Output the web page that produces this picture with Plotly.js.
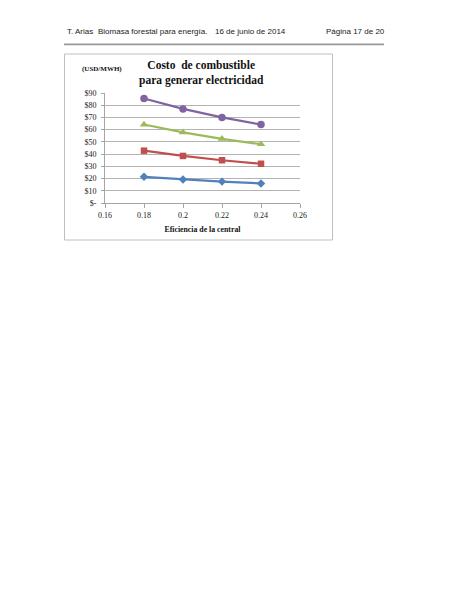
<!DOCTYPE html>
<html>
<head>
<meta charset="utf-8">
<script src="https://cdn.plot.ly/plotly-3.0.1.min.js"></script>
<style>
html,body{margin:0;padding:0;background:#fff;}
#chart{width:463px;height:599px;}
</style>
</head>
<body>
<div id="chart"></div>
<script>
// Data
const efficiency = [0.18, 0.20, 0.22, 0.24];
const seriesPurple = [85.5, 77, 70, 64.2];
const seriesGreen = [64.2, 57.8, 52.5, 48.1];
const seriesRed = [42.8, 38.5, 35, 32.1];
const seriesBlue = [21.4, 19.3, 17.5, 16.0];
const xTickVals = [0.16, 0.18, 0.20, 0.22, 0.24, 0.26];
const xTickText = ["0.16", "0.18", "0.2", "0.22", "0.24", "0.26"];
const yTickVals = [0, 10, 20, 30, 40, 50, 60, 70, 80, 90];
const yTickText = ["$-", "$10", "$20", "$30", "$40", "$50", "$60", "$70", "$80", "$90"];

const W = 463, H = 599;
const px = x => x / W;
const py = y => 1 - y / H;

function tr(y, color, symbol, size) {
  return {
    x: efficiency, y: y, type: 'scatter', mode: 'lines+markers',
    line: {color: color, width: 2.2},
    marker: {color: color, symbol: symbol, size: size},
    hoverinfo: 'skip'
  };
}

const data = [
  tr(seriesBlue, '#4F81BD', 'diamond', 6.5),
  tr(seriesRed, '#C0504D', 'square', 6.5),
  tr(seriesGreen, '#9BBB59', 'triangle-up', 7.5),
  tr(seriesPurple, '#8064A2', 'circle', 7.5)
];

const serif = '"Liberation Serif", "Times New Roman", serif';
const sans = '"Liberation Sans", Arial, sans-serif';

function note(x, y, text, anchor, font) {
  return {xref: 'paper', yref: 'paper', x: px(x), y: py(y), xanchor: anchor, yanchor: 'middle',
          text: text, showarrow: false, font: font};
}
const headFont = {family: sans, size: 8, color: '#222'};
const titleFont = {family: serif, size: 11.5, color: '#111'};

const layout = {
  width: W, height: H,
  margin: {l: 0, r: 0, t: 0, b: 0},
  paper_bgcolor: '#ffffff', plot_bgcolor: '#ffffff',
  showlegend: false,
  xaxis: {
    domain: [px(105), px(300)],
    range: [0.16, 0.26],
    tickvals: xTickVals, ticktext: xTickText,
    showgrid: false, zeroline: false,
    showline: true, linecolor: '#a6a6a6', linewidth: 1,
    ticks: 'outside', ticklen: 4, tickcolor: '#a6a6a6',
    tickfont: {family: serif, size: 8, color: '#222'},
    title: {text: '<b>Eficiencia de la central</b>', font: {family: serif, size: 7.8, color: '#111'}, standoff: 7}
  },
  yaxis: {
    domain: [py(203), py(93)],
    range: [0, 90],
    tickvals: yTickVals, ticktext: yTickText,
    showgrid: true, gridcolor: '#b3b3b3', gridwidth: 1,
    zeroline: false,
    showline: true, linecolor: '#a6a6a6', linewidth: 1,
    ticks: 'outside', ticklen: 3, tickcolor: '#a6a6a6',
    ticklabelstandoff: 3,
    tickfont: {family: serif, size: 8, color: '#222'}
  },
  shapes: [
    {type: 'rect', xref: 'paper', yref: 'paper', x0: px(64.5), x1: px(332.5), y0: py(240), y1: py(54),
     line: {color: '#bfbfbf', width: 1}, fillcolor: 'rgba(0,0,0,0)', layer: 'below'},
    {type: 'line', xref: 'paper', yref: 'paper', x0: px(64), x1: px(384), y0: py(44.3), y1: py(44.3),
     line: {color: '#999999', width: 1.8}}
  ],
  annotations: [
    note(65, 31.5, 'T. Arias', 'left', headFont),
    note(96, 31.5, 'Biomasa forestal para energía.', 'left', headFont),
    note(212.5, 31.5, '16 de junio de 2014', 'left', headFont),
    note(386.5, 31.5, 'Página 17 de 20', 'right', headFont),
    note(201, 73.5, '<b>Costo  de combustible</b><br><b>para generar electricidad</b>', 'center', titleFont),
    note(102, 69.5, '<b>(USD/MWH)</b>', 'center', {family: serif, size: 7, color: '#111'})
  ]
};

Plotly.newPlot('chart', data, layout, {displayModeBar: false, staticPlot: true});
</script>
</body>
</html>
